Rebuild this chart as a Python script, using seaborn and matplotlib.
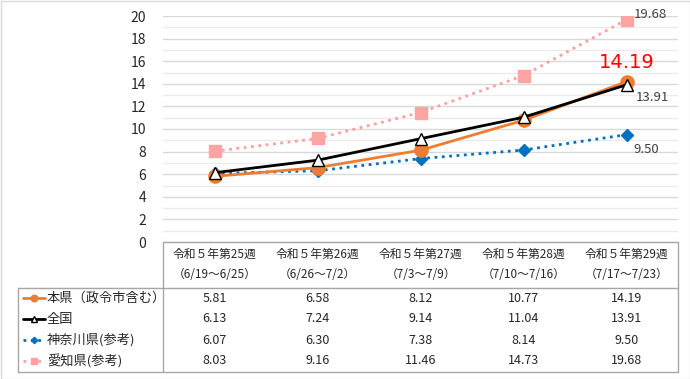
import matplotlib
matplotlib.use("Agg")
import matplotlib.pyplot as plt
import seaborn as sns
import pandas as pd
from matplotlib.lines import Line2D
from matplotlib.ticker import MultipleLocator

weeks = ["令和５年第25週", "令和５年第26週", "令和５年第27週", "令和５年第28週", "令和５年第29週"]
periods = ["（6/19～6/25）", "（6/26～7/2）", "（7/3～7/9）", "（7/10～7/16）", "（7/17～7/23）"]
series_names = ["本県（政令市含む）", "全国", "神奈川県(参考)", "愛知県(参考)"]
honken = [5.81, 6.58, 8.12, 10.77, 14.19]
zenkoku = [6.13, 7.24, 9.14, 11.04, 13.91]
kanagawa = [6.07, 6.30, 7.38, 8.14, 9.50]
aichi = [8.03, 9.16, 11.46, 14.73, 19.68]

sns.set_theme(style="white")
plt.rcParams["font.family"] = ["Noto Sans CJK JP", "DejaVu Sans"]

# styles per series: color, linestyle, marker, markersize, marker face, marker edge
styles = {
    "本県（政令市含む）": dict(color="#ED7D31", ls="-", lw=2.0, marker="o", ms=9.5, mfc="#ED7D31", mec="#ED7D31"),
    "全国": dict(color="#000000", ls="-", lw=2.0, marker="^", ms=8.5, mfc="white", mec="#000000"),
    "神奈川県(参考)": dict(color="#0070C0", ls=":", lw=2.0, marker="D", ms=6.5, mfc="#0070C0", mec="#0070C0"),
    "愛知県(参考)": dict(color="#FF9F9F", ls=":", lw=2.0, marker="s", ms=8.5, mfc="#FFA3A3", mec="#FFA3A3"),
}
values = {"本県（政令市含む）": honken, "全国": zenkoku, "神奈川県(参考)": kanagawa, "愛知県(参考)": aichi}

W, H = 690, 379
fig = plt.figure(figsize=(W / 100, H / 100), dpi=100)
fig.patch.set_facecolor("white")

# table/frame overlay in pixel coords
axt = fig.add_axes([0, 0, 1, 1])
axt.set_xlim(0, W)
axt.set_ylim(H, 0)
axt.axis("off")

x_left, x_split, x_right = 18, 163, 678
y_top, y_mid, y_bot = 242, 288, 372

ax = fig.add_axes([x_split / W, (H - y_top) / H, (x_right - x_split) / W, (y_top - 16) / H])
ax.set_facecolor("none")
ax.set_xlim(-0.5, 4.5)
ax.set_ylim(0, 20.0)
ax.yaxis.set_major_locator(MultipleLocator(2))
ax.yaxis.set_minor_locator(MultipleLocator(1))
ax.grid(which="major", axis="y", color="#D9D9D9", lw=1.0)
ax.grid(which="minor", axis="y", color="#EBEBEB", lw=1.0)
ax.set_axisbelow(True)
for s in ax.spines.values():
    s.set_visible(False)
ax.set_xticks([])
ax.tick_params(axis="y", which="both", length=0, pad=12, labelsize=10, labelcolor="#262626")

order = ["愛知県(参考)", "神奈川県(参考)", "本県（政令市含む）", "全国"]
for name in order:
    st = styles[name]
    df = pd.DataFrame({"x": range(len(weeks)), "y": values[name]})
    sns.lineplot(data=df, x="x", y="y", ax=ax, color=st["color"], linestyle=st["ls"], lw=st["lw"],
                 marker=st["marker"], markersize=st["ms"], markerfacecolor=st["mfc"],
                 markeredgecolor=st["mec"], markeredgewidth=1.0, zorder=3)
ax.set_xlabel("")
ax.set_ylabel("")

last = len(weeks) - 1
ax.annotate(f"{honken[-1]:.2f}", (last, honken[-1]), xytext=(0, 7), textcoords="offset points",
            ha="center", va="bottom", color="#FF0000", fontsize=14, family="DejaVu Sans")
ax.annotate(f"{zenkoku[-1]:.2f}", (last, zenkoku[-1]), xytext=(19, -9), textcoords="offset points",
            ha="center", va="center", color="#404040", fontsize=9.5)
ax.annotate(f"{kanagawa[-1]:.2f}", (last, kanagawa[-1]), xytext=(14, -11), textcoords="offset points",
            ha="center", va="center", color="#404040", fontsize=9.5)
ax.annotate(f"{aichi[-1]:.2f}", (last, aichi[-1]), xytext=(5, 4), textcoords="offset points",
            ha="left", va="center", color="#404040", fontsize=9.5)

# table lines
lc = "#A6A6A6"
axt.plot([x_split, x_right], [y_top, y_top], color=lc, lw=1)
axt.plot([x_left, x_right], [y_mid, y_mid], color=lc, lw=1)
axt.plot([x_left, x_right], [y_bot, y_bot], color=lc, lw=1)
axt.plot([x_left, x_left], [y_mid, y_bot], color=lc, lw=1)
axt.plot([x_split, x_split], [y_top, y_bot], color=lc, lw=1)
axt.plot([x_right, x_right], [y_top, y_bot], color=lc, lw=1)
# outer image frame
axt.plot([0.5, W - 0.5, W - 0.5, 0.5, 0.5], [0.5, 0.5, H - 0.5, H - 0.5, 0.5], color="#D9D9D9", lw=1)

col_w = (x_right - x_split) / len(weeks)
tc = "#262626"
for i, (wk, pr) in enumerate(zip(weeks, periods)):
    cx = x_split + col_w * (i + 0.5)
    axt.text(cx, 254, wk, ha="center", va="center", fontsize=8.5, color=tc)
    axt.text(cx, 275, pr, ha="center", va="center", fontsize=8.5, color=tc)

row_y = [298, 319, 340, 361]
for name, ry in zip(series_names, row_y):
    st = styles[name]
    axt.add_line(Line2D([23, 45], [ry, ry], color=st["color"], ls=st["ls"], lw=2))
    axt.add_line(Line2D([34], [ry], marker=st["marker"], ms=st["ms"] * 0.5, mfc=st["mfc"],
                        mec=st["mec"], mew=1.0, ls="none"))
    axt.text(47, ry, name, ha="left", va="center", fontsize=9.5, color=tc)
    for i, v in enumerate(values[name]):
        cx = x_split + col_w * (i + 0.5)
        axt.text(cx, ry, f"{v:.2f}", ha="center", va="center", fontsize=9, color=tc)

fig.savefig("out.png", dpi=100)
